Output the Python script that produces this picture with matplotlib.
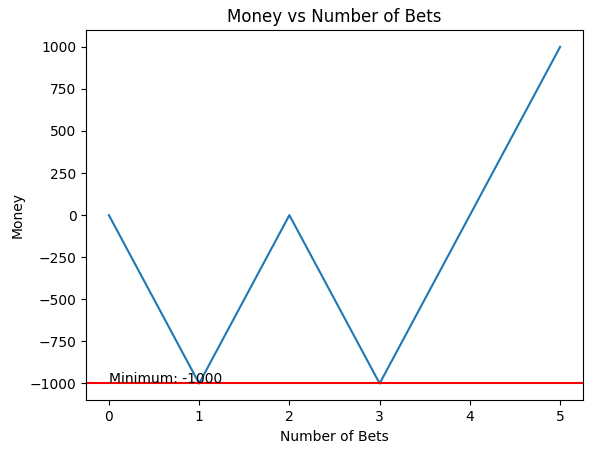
import matplotlib
matplotlib.use("Agg")
import matplotlib.pyplot as plt

bets = [0, 1, 2, 3, 4, 5]
money = [0, -1000, 0, -1000, 0, 1000]
minimum = min(money)

fig = plt.figure(figsize=(5.92, 4.53), dpi=100)
ax = fig.add_subplot(111)
fig.subplots_adjust(left=0.1458, right=0.9843, top=0.9338, bottom=0.1163)

ax.plot(bets, money)
ax.axhline(minimum, color='red')
ax.text(0, minimum, 'Minimum: {}'.format(minimum))
ax.set_xlabel('Number of Bets')
ax.set_ylabel('Money')
ax.set_title('Money vs Number of Bets')

fig.savefig('out.png', dpi=100)
